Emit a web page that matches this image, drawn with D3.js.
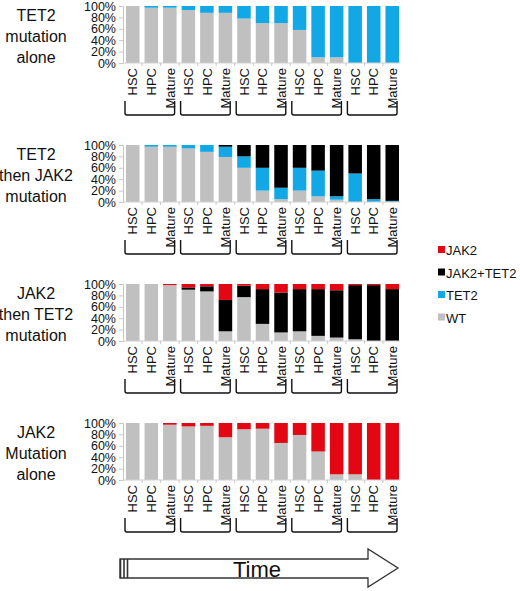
<!DOCTYPE html>
<html>
<head>
<meta charset="utf-8">
<script src="https://cdn.jsdelivr.net/npm/d3@7"></script>
<style>
  body { margin: 0; background: #fff; }
  svg { font-family: "Liberation Sans", Arial, Helvetica, sans-serif; }
</style>
</head>
<body>
<svg id="chart" width="520" height="591"></svg>
<script>
const stages = ['HSC', 'HPC', 'Mature'];
const timepoints = ['t1', 't2', 't3', 't4', 't5'];
const seriesNames = ['WT', 'TET2', 'JAK2+TET2', 'JAK2'];
const seriesColors = ['#c0c0c0', '#12a8e6', '#000000', '#e30613'];
const legendOrder = ['JAK2', 'JAK2+TET2', 'TET2', 'WT'];
const yTicks = [0, 20, 40, 60, 80, 100];

const panelTitles = [
  ['TET2', 'mutation', 'alone'],
  ['TET2', 'then JAK2', 'mutation'],
  ['JAK2', 'then TET2', 'mutation'],
  ['JAK2', 'Mutation', 'alone']
];

// 15 bars per panel: 5 timepoints x (HSC, HPC, Mature), in %
const zeros = [0, 0, 0, 0, 0, 0, 0, 0, 0, 0, 0, 0, 0, 0, 0];

const tet2AloneWT   = [100, 97, 97, 93, 88, 88, 78, 70, 70, 58, 10, 10, 0, 0, 0];
const tet2AloneTET2 = [0, 3, 3, 7, 12, 12, 22, 30, 30, 42, 90, 90, 100, 100, 100];

const tet2FirstWT   = [100, 97, 97, 94, 88, 79, 60, 20, 5, 20, 10, 4, 0, 0, 0];
const tet2FirstTET2 = [0, 3, 3, 6, 12, 18, 20, 40, 20, 40, 45, 6, 50, 5, 2];
const tet2FirstBoth = [0, 0, 0, 0, 0, 3, 20, 40, 75, 40, 45, 90, 50, 95, 98];

const jak2FirstWT   = [100, 100, 98, 90, 87, 17, 77, 30, 15, 17, 9, 6, 3, 0, 0];
const jak2FirstBoth = [0, 0, 0, 4, 9, 55, 20, 61, 70, 74, 82, 83, 95, 98, 91];
const jak2FirstJAK2 = [0, 0, 2, 6, 4, 28, 3, 9, 15, 9, 9, 11, 2, 2, 9];

const jak2AloneWT   = [100, 100, 97, 94, 95, 75, 89, 90, 65, 79, 50, 10, 10, 0, 0];
const jak2AloneJAK2 = [0, 0, 3, 6, 5, 25, 11, 10, 35, 21, 50, 90, 90, 100, 100];

const panelSeries = [
  [tet2AloneWT, tet2AloneTET2, zeros, zeros],
  [tet2FirstWT, tet2FirstTET2, tet2FirstBoth, zeros],
  [jak2FirstWT, zeros, jak2FirstBoth, jak2FirstJAK2],
  [jak2AloneWT, zeros, zeros, jak2AloneJAK2]
];

const svg = d3.select('#chart');
const color = d3.scaleOrdinal().domain(seriesNames).range(seriesColors);

const keys = [];
timepoints.forEach(t => stages.forEach(s => keys.push(t + '|' + s)));

const x = d3.scaleBand().domain(keys).range([126, 399]).paddingInner(0.27).paddingOuter(0);

const panelTop = 6;
const panelStep = 139;
const plotH = 57;

panelSeries.forEach((series, p) => {
  const top = panelTop + p * panelStep;
  const y = d3.scaleLinear().domain([0, 100]).range([top + plotH, top]);

  const rows = keys.map((k, i) => {
    const row = { key: k };
    seriesNames.forEach((n, j) => { row[n] = series[j][i]; });
    return row;
  });
  const stacked = d3.stack().keys(seriesNames)(rows);

  const g = svg.append('g');

  // title
  const title = g.append('text')
    .attr('text-anchor', 'middle')
    .attr('font-size', 16)
    .attr('fill', '#111');
  panelTitles[p].forEach((line, i) => {
    title.append('tspan')
      .attr('x', 36)
      .attr('y', top + 36 + (i - 1) * 21)
      .text(line);
  });

  // bars
  g.selectAll('.layer')
    .data(stacked)
    .join('g')
    .attr('fill', d => color(d.key))
    .selectAll('rect')
    .data(d => d)
    .join('rect')
    .attr('x', d => x(d.data.key))
    .attr('width', x.bandwidth())
    .attr('y', d => y(d[1]))
    .attr('height', d => y(d[0]) - y(d[1]));

  // y axis
  const yAxis = g.append('g')
    .attr('transform', 'translate(123,0)')
    .call(d3.axisLeft(y).tickValues(yTicks).tickFormat(d => d + '%').tickSize(4).tickPadding(3));
  yAxis.select('.domain').attr('stroke', '#c8c8c8');
  yAxis.selectAll('.tick line').attr('stroke', '#c8c8c8');
  yAxis.selectAll('.tick text')
    .attr('font-size', 12.5)
    .attr('font-family', '"Liberation Sans", Arial, sans-serif')
    .attr('fill', '#111');

  // x baseline and band ticks
  g.append('line')
    .attr('x1', 123).attr('x2', 400)
    .attr('y1', y(0)).attr('y2', y(0))
    .attr('stroke', '#d0d0d0');
  g.selectAll('.btick')
    .data(keys.slice(1))
    .join('line')
    .attr('x1', d => x(d) - x.step() * x.paddingInner() / 2)
    .attr('x2', d => x(d) - x.step() * x.paddingInner() / 2)
    .attr('y1', y(0)).attr('y2', y(0) + 3)
    .attr('stroke', '#c8c8c8');

  // x labels
  const xAxis = g.append('g')
    .attr('transform', `translate(0,${y(0)})`)
    .call(d3.axisBottom(x).tickSize(0).tickFormat(d => d.split('|')[1]));
  xAxis.select('.domain').remove();
  xAxis.selectAll('.tick text')
    .attr('font-size', 13)
    .attr('font-family', '"Liberation Sans", Arial, sans-serif')
    .attr('fill', '#111')
    .attr('transform', 'rotate(-90)')
    .attr('text-anchor', 'end')
    .attr('x', -5)
    .attr('y', 0)
    .attr('dy', '0.36em');

  // group brackets
  const b0 = y(0) + 38;
  const b1 = y(0) + 52;
  g.selectAll('.bracket')
    .data(timepoints)
    .join('path')
    .attr('fill', 'none')
    .attr('stroke', '#111')
    .attr('stroke-width', 1.4)
    .attr('d', t => {
      const x0 = x(t + '|' + stages[0]) - 1;
      const x1 = x(t + '|' + stages[2]) + x.bandwidth() - 2;
      return `M${x0},${b0}V${b1 - 2}Q${x0},${b1} ${x0 + 2},${b1}H${x1 - 2}Q${x1},${b1} ${x1},${b1 - 2}V${b0}`;
    });
});

// legend
const legend = svg.append('g');
legendOrder.forEach((n, i) => {
  const ly = 250 + i * 22.5;
  legend.append('rect')
    .attr('x', 438).attr('y', ly - 4)
    .attr('width', 7).attr('height', 7)
    .attr('fill', color(n));
  legend.append('text')
    .attr('x', 446).attr('y', ly + 5)
    .attr('font-size', 13)
    .attr('fill', '#111')
    .text(n);
});

// time arrow
const arrow = svg.append('g').attr('stroke', '#333').attr('stroke-width', 1.3).attr('fill', '#fff');
arrow.append('path')
  .attr('d', 'M120,559H368V549L398,568L368,587V578H120Z');
[120.5, 124, 127.5].forEach(ax => {
  arrow.append('line')
    .attr('x1', ax).attr('x2', ax)
    .attr('y1', 559).attr('y2', 578)
    .attr('stroke-width', 1.6);
});
svg.append('text')
  .attr('x', 257).attr('y', 577)
  .attr('text-anchor', 'middle')
  .attr('font-size', 22)
  .attr('fill', '#111')
  .text('Time');
</script>
</body>
</html>
